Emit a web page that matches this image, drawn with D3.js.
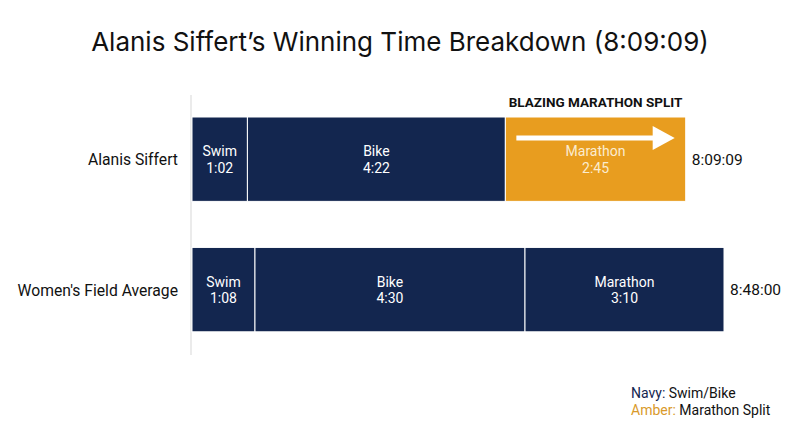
<html lang="en">
<head>
  <meta charset="UTF-8"/>
  <script src="https://d3js.org/d3.v7.min.js"></script>
  <style>
body {
  margin: 0;
  background: #ffffff;
  font-family: Roboto, 'Open Sans', sans-serif;
}

svg {
  display: block;
}

text.title {
  font-family: Inter, Roboto, sans-serif;
  font-size: 26px;
  fill: #111111;
}

text.cat {
  font-size: 15.7px;
  fill: #111111;
}

text.seg {
  font-size: 14px;
  fill: #ffffff;
}

text.total {
  font-size: 15.5px;
  fill: #111111;
}

text.callout {
  font-size: 13.5px;
  font-weight: 700;
  fill: #111111;
}

text.legend {
  font-size: 14px;
  fill: #111111;
}
  </style>
</head>
<body>
<svg width="800" height="447"></svg>

<script>
  // rows
  const athletes = ['Alanis Siffert', "Women's Field Average"];
  const legs = ['Swim', 'Bike', 'Marathon'];

  // segment lengths in minutes, as drawn in the chart
  const siffertMinutes = [55, 256, 179];
  const fieldMinutes = [62.5, 268, 197.5];

  // split labels printed inside the bars
  const siffertSplits = ['1:02', '4:22', '2:45'];
  const fieldSplits = ['1:08', '4:30', '3:10'];

  // finish times
  const totals = ['8:09:09', '8:48:00'];

  const navy = '#13264f';
  const amber = '#e89d1f';

  const svg = d3.select('svg');

  const margin = {left: 192, top: 117};
  const width = 532;

  const x = d3.scaleLinear()
    .domain([0, 528])
    .range([0, width]);

  const y = d3.scaleBand()
    .domain(athletes)
    .range([0, 214.8])
    .paddingInner(0.353);

  const chart = svg.append('g')
    .attr('transform', `translate(${margin.left},${margin.top})`);

  svg.append('text')
    .attr('class', 'title')
    .attr('x', 400)
    .attr('y', 51)
    .attr('text-anchor', 'middle')
    .text('Alanis Siffert\u2019s Winning Time Breakdown (8:09:09)');

  // thin axis line on the left
  chart.append('line')
    .attr('x1', -1)
    .attr('x2', -1)
    .attr('y1', -22)
    .attr('y2', 238)
    .attr('stroke', '#e4e4e4')
    .attr('stroke-width', 1.5);

  const rows = [
    {name: athletes[0], mins: siffertMinutes, splits: siffertSplits, total: totals[0], highlight: true},
    {name: athletes[1], mins: fieldMinutes, splits: fieldSplits, total: totals[1], highlight: false}
  ];

  rows.forEach(function(r) {
    let acc = 0;
    const segs = r.mins.map(function(m, i) {
      const s = {leg: legs[i], start: acc, end: acc + m, split: r.splits[i]};
      acc += m;
      return s;
    });
    const y0 = y(r.name);
    const h = y.bandwidth();

    const g = chart.append('g');

    g.selectAll('rect')
      .data(segs)
      .join('rect')
      .attr('x', d => x(d.start))
      .attr('y', y0)
      .attr('width', d => x(d.end) - x(d.start))
      .attr('height', h)
      .attr('fill', d => (r.highlight && d.leg === 'Marathon') ? amber : navy)
      .attr('stroke', '#ffffff')
      .attr('stroke-width', 1);

    const lbl = g.selectAll('text.seg')
      .data(segs)
      .join('text')
      .attr('class', 'seg')
      .attr('text-anchor', 'middle')
      .attr('x', d => (x(d.start) + x(d.end)) / 2)
      .style('fill', d => (r.highlight && d.leg === 'Marathon') ? '#fbeccf' : '#ffffff');
    lbl.append('tspan')
      .attr('x', d => (x(d.start) + x(d.end)) / 2)
      .attr('y', y0 + h / 2 - 2.8)
      .text(d => d.leg);
    lbl.append('tspan')
      .attr('x', d => (x(d.start) + x(d.end)) / 2)
      .attr('y', y0 + h / 2 + 13.5)
      .text(d => d.split);

    g.append('text')
      .attr('class', 'total')
      .attr('x', x(acc) + 6)
      .attr('y', y0 + h / 2 + 5.5)
      .text(r.total);

    chart.append('text')
      .attr('class', 'cat')
      .attr('text-anchor', 'end')
      .attr('x', -14)
      .attr('y', y0 + h / 2 + 6)
      .text(r.name);

    if (r.highlight) {
      const m = segs[2];
      const mx = (x(m.start) + x(m.end)) / 2;
      chart.append('text')
        .attr('class', 'callout')
        .attr('text-anchor', 'middle')
        .attr('x', mx)
        .attr('y', y0 - 10)
        .text('BLAZING MARATHON SPLIT');

      // arrow across the marathon segment
      const ax1 = x(m.start) + 11;
      const ax2 = x(m.end) - 11;
      const ay = y0 + 21;
      chart.append('line')
        .attr('x1', ax1)
        .attr('x2', ax2 - 18)
        .attr('y1', ay)
        .attr('y2', ay)
        .attr('stroke', '#ffffff')
        .attr('stroke-width', 5);
      chart.append('path')
        .attr('d', `M${ax2 - 22},${ay - 12} L${ax2},${ay} L${ax2 - 22},${ay + 12} Z`)
        .attr('fill', '#ffffff');
    }
  });

  // legend
  const legend = svg.append('g').attr('transform', 'translate(631,398)');
  const l1 = legend.append('text').attr('class', 'legend');
  l1.append('tspan').style('fill', navy).text('Navy:');
  l1.append('tspan').text(' Swim/Bike');
  const l2 = legend.append('text').attr('class', 'legend').attr('y', 17);
  l2.append('tspan').style('fill', '#d99a2b').text('Amber:');
  l2.append('tspan').text(' Marathon Split');
</script>
</body>
</html>
